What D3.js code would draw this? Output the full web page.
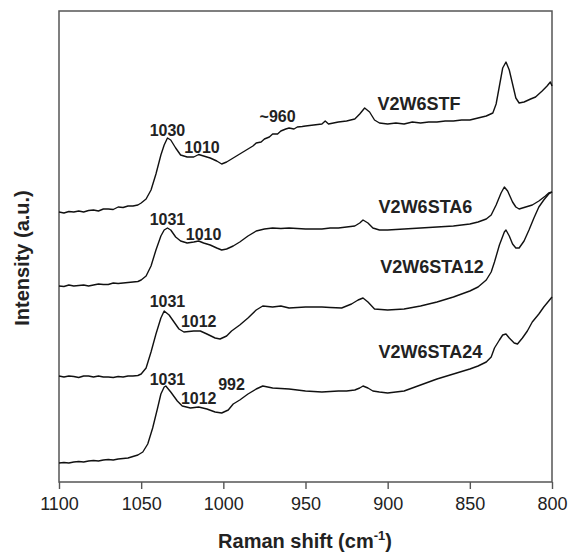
<!DOCTYPE html>
<html>
<head>
<meta charset="utf-8">
<script src="https://cdn.jsdelivr.net/npm/d3@7"></script>
<style>
    body { margin: 0; background: #fff; }
    text { font-family: "Liberation Sans", Arial, Helvetica, sans-serif; }
</style>
</head>
<body>
<div id="raman-chart"></div>
<script>

// raman shift (cm-1) for each spectrum
let shiftSTF = [1100,1097,1094,1091,1088,1085,1082,1079,1076,1073,1070,1067,1064,1061,1058,1055,1052,1050,1047,1044,1041,1038,1036,1034,1032,1029,1026,1022,1018,1015,1012,1008,1004,1001,998,994,990,987,985,982,980,977,975,972,970,967,965,962,960,957,955,952,950,945,940,938,936,930,925,920,917,914,911,908,905,900,895,890,885,880,875,870,865,860,855,850,845,840,836,834,832,830,828,826,824,822,820,817,813,810,806,803,801,800];
let valuesSTF = [270,269,270.5,270,271,270,271.5,272,271,273,273,272.5,275,274.5,276,276,277,279,283,292,308,327,337,344,342,334,327,325,325,327.5,326,324,321,318,320,324,328,331,333,336,339,340,343,345,348,348,351,353,354,353,355,355.5,356,357,358,361,358,360,361,363,368,374,370,362,359,358,359,358,360,359,360,360,361,361,362,362,364,366,369,378,396,414,420,412,398,384,379,380,383,385,391,396,400,396];

let shiftSTA6 = [1100,1097,1094,1091,1088,1085,1082,1079,1076,1073,1070,1067,1064,1061,1058,1055,1052,1050,1047,1044,1041,1038,1036,1034,1032,1029,1026,1022,1018,1015,1012,1008,1004,1001,998,994,990,985,980,975,970,965,960,950,940,935,930,925,920,917,915,912,909,905,900,890,880,870,860,850,845,840,837,834,831,829,827,824,822,820,816,812,808,804,802,800];
let valuesSTA6 = [196,195.5,197,196,196.5,197,196,197,198,197.5,197.5,199,198.5,199,199.5,200,200.5,202,206,216,232,246,252,254,252,245,241,239,240,241,239,237,234,232,233,236,240,246,251,253,254,253.5,254,253,253,254,254,255,256,259,262,259,254,252,252,253,254,255,256,258,260,263,267,277,289,295,291,280,275,273,275,277,281,286,289,290];

let shiftSTA12 = [1100,1097,1094,1091,1088,1085,1082,1079,1076,1073,1070,1067,1064,1061,1058,1055,1052,1050,1047,1044,1041,1038,1036,1033,1030,1027,1024,1018,1014,1010,1005,1002,998,995,990,985,980,976,970,965,960,950,940,935,928,922,918,915,912,908,900,890,880,870,860,850,845,840,837,835,832,829,828,826,824,822,820,817,814,811,808,805,802,800];
let valuesSTA12 = [106,105,106,105.5,104.5,106,106,105,106,105,105,104.5,105.5,105,106,106,106.5,108,114,130,148,164,171,167,160,153,150,151,151,148,144,143,146,151,157,164,172,176,175,176,174,175,175,174.5,174,178,182,184,180,173,172,173,176,180,185,191,195,202,210,220,237,250,252,246,238,234,234,241,252,264,275,282,288,290];

let shiftSTA24 = [1100,1097,1094,1091,1088,1085,1082,1079,1076,1073,1070,1067,1064,1061,1058,1055,1052,1049,1046,1043,1040,1038,1036,1035,1032,1028,1025,1020,1015,1010,1005,1001,997,994,990,985,980,976,970,960,950,940,930,925,920,917,915,912,909,905,900,895,890,880,870,860,850,845,840,837,835,832,830,828,826,823,821,818,815,812,808,805,802,800];
let valuesSTA24 = [19,19.5,19,20,20.5,20,21,21.5,21,22,22.5,22,23,23.5,24,25.5,27,30,38,54,74,88,95,96,90,81,76,74,75,73,70,69,72,78,82,88,93,96,94,93,91,90,91,91,92,94,96,94,91,90,89,90,91,97,103,108,113,116,120,125,134,142,147,148,144,139,138,144,151,160,168,175,181,185];

// x axis tick labels
let xTicks = [1100, 1050, 1000, 950, 900, 850, 800];

// sample names and peak labels (text, raman shift, intensity)
let sampleNames = ["V2W6STF", "V2W6STA6", "V2W6STA12", "V2W6STA24"];
let nameShift = [881, 877, 873, 874];
let nameLevel = [378, 275, 215, 130];

let peakText = ["1030", "1010", "~960", "1031", "1010", "1031", "1012", "1031", "1012", "992"];
let peakShift = [1034, 1013, 967, 1034, 1012, 1034, 1015, 1034, 1015, 995];
let peakLevel = [352, 335, 366, 263, 248, 181, 161, 103, 84, 98];


let svg = d3.select("#raman-chart")
    .append("svg")
    .attr("width", 570)
    .attr("height", 552);

// x axis runs from high to low wavenumber
let x = d3.scaleLinear()
    .domain([1100, 800])
    .range([59, 552]);

// intensity in arbitrary units
let y = d3.scaleLinear()
    .domain([0, 471])
    .range([482, 11]);

// x axis with outward ticks
let xAxis = d3.axisBottom(x)
    .tickValues(xTicks)
    .tickSize(7)
    .tickPadding(8)
    .tickFormat(d3.format("d"));

let gx = svg.append("g")
    .attr("class", "x-axis")
    .attr("transform", "translate(0, 482)")
    .call(xAxis);

gx.select(".domain").remove();
gx.selectAll(".tick line")
    .attr("stroke", "#555")
    .attr("stroke-width", 1.4);
gx.selectAll(".tick text")
    .attr("fill", "#222")
    .style("font-size", "18px")
    .style("font-family", "'Liberation Sans', Arial, sans-serif");

// plot frame
svg.append("rect")
    .attr("x", x(1100))
    .attr("y", y(471))
    .attr("width", x(800) - x(1100))
    .attr("height", y(0) - y(471))
    .attr("fill", "none")
    .attr("stroke", "#555")
    .attr("stroke-width", 1.5);

// draw spectra
let spectra = [
    [shiftSTF, valuesSTF],
    [shiftSTA6, valuesSTA6],
    [shiftSTA12, valuesSTA12],
    [shiftSTA24, valuesSTA24]
];

let line = d3.line()
    .x(d => x(d[0]))
    .y(d => y(d[1]));

spectra.forEach(s => {
    let pts = s[0].map((w, i) => [w, s[1][i]]);
    svg.append("path")
        .datum(pts)
        .attr("d", line)
        .attr("fill", "none")
        .attr("stroke", "#111")
        .attr("stroke-width", 1.4)
        .attr("stroke-linejoin", "round");
});

// sample labels
svg.selectAll(".name")
    .data(sampleNames)
    .enter()
    .append("text")
    .attr("class", "name")
    .attr("x", (d, i) => x(nameShift[i]))
    .attr("y", (d, i) => y(nameLevel[i]))
    .attr("dy", "0.36em")
    .attr("text-anchor", "middle")
    .attr("font-size", "18px")
    .attr("font-weight", "bold")
    .attr("fill", "#222")
    .text(d => d);

// peak labels
svg.selectAll(".peak")
    .data(peakText)
    .enter()
    .append("text")
    .attr("class", "peak")
    .attr("x", (d, i) => x(peakShift[i]))
    .attr("y", (d, i) => y(peakLevel[i]))
    .attr("dy", "0.36em")
    .attr("text-anchor", "middle")
    .attr("font-size", "16px")
    .attr("font-weight", "bold")
    .attr("fill", "#222")
    .text(d => d);

// axis titles
let xTitle = svg.append("text")
    .attr("x", 305)
    .attr("y", 548)
    .attr("text-anchor", "middle")
    .attr("font-size", "20px")
    .attr("font-weight", "bold")
    .attr("fill", "#222");
xTitle.append("tspan").text("Raman shift (cm");
xTitle.append("tspan")
    .attr("dy", "-8")
    .attr("font-size", "13px")
    .text("-1");
xTitle.append("tspan")
    .attr("dy", "8")
    .text(")");

svg.append("text")
    .attr("transform", "translate(29, 258) rotate(-90)")
    .attr("text-anchor", "middle")
    .attr("font-size", "20px")
    .attr("font-weight", "bold")
    .attr("fill", "#222")
    .text("Intensity (a.u.)");

</script>
</body>
</html>
